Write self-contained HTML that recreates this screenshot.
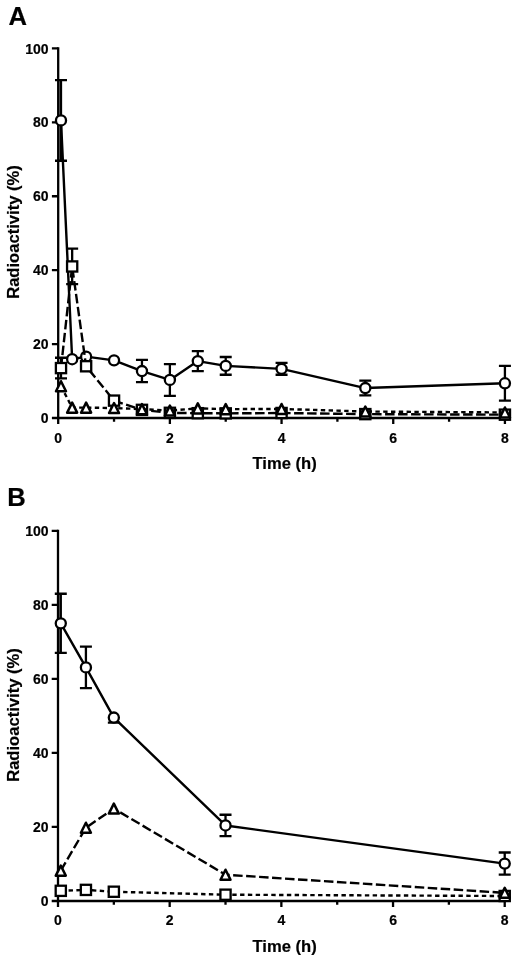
<!DOCTYPE html>
<html><head><meta charset="utf-8"><title>Radioactivity vs time</title>
<style>
html,body{margin:0;padding:0;background:#fff;}
body{width:520px;height:962px;overflow:hidden;}
svg{display:block;will-change:transform;}
text{font-family:"Liberation Sans", sans-serif;font-weight:bold;fill:#000;stroke:#000;stroke-width:0.2px;}
.t{font-size:14px;}
.h{font-size:16.6px;}
.L{font-size:25.6px;}
</style></head>
<body>
<svg width="520" height="962" viewBox="0 0 520 962">
<path d="M58.2 47.25V418H506.07" fill="none" stroke="#000" stroke-width="2.3" stroke-linecap="butt" stroke-linejoin="miter"/>
<path d="M51.9 418H58.2M51.9 344.08H58.2M51.9 270.16H58.2M51.9 196.24H58.2M51.9 122.32H58.2M51.9 48.4H58.2M58.2 418V424M114.04 418V421.8M169.88 418V424M225.72 418V421.8M281.56 418V424M337.4 418V421.8M393.24 418V424M449.08 418V421.8M504.92 418V424" stroke="#000" stroke-width="2.3" fill="none"/>
<text x="48.6" y="423.1" text-anchor="end" class="t">0</text>
<text x="48.6" y="349.18" text-anchor="end" class="t">20</text>
<text x="48.6" y="275.26" text-anchor="end" class="t">40</text>
<text x="48.6" y="201.34" text-anchor="end" class="t">60</text>
<text x="48.6" y="127.42" text-anchor="end" class="t">80</text>
<text x="48.6" y="53.5" text-anchor="end" class="t">100</text>
<text x="58.2" y="442.6" text-anchor="middle" class="t">0</text>
<text x="169.88" y="442.6" text-anchor="middle" class="t">2</text>
<text x="281.56" y="442.6" text-anchor="middle" class="t">4</text>
<text x="393.24" y="442.6" text-anchor="middle" class="t">6</text>
<text x="504.92" y="442.6" text-anchor="middle" class="t">8</text>
<text x="284.6" y="469.2" text-anchor="middle" class="h">Time (h)</text>
<text transform="translate(19.1 232) rotate(-90)" x="0" y="0" text-anchor="middle" class="h">Radioactivity (%)</text>
<text x="8.5" y="24.6" class="L">A</text>
<polyline points="60.99,120.47 72.16,359.23 86.12,356.65 114.04,360.34 141.96,371.06 169.88,379.93 197.8,361.08 225.72,365.89 281.56,368.84 365.32,388.06 504.92,383.26" fill="none" stroke="#000" stroke-width="2.4" stroke-linejoin="round"/>
<path d="M59.6 80.19V160.76" stroke="#000" stroke-opacity="0.55" stroke-width="1" fill="none"/><path d="M60.99 80.19V160.76M54.99 80.19H66.99M54.99 160.76H66.99M141.96 359.97V382.15M135.96 359.97H147.96M135.96 382.15H147.96M169.88 364.04V395.82M163.88 364.04H175.88M163.88 395.82H175.88M197.8 351.1V371.06M191.8 351.1H203.8M191.8 371.06H203.8M225.72 357.02V374.76M219.72 357.02H231.72M219.72 374.76H231.72M281.56 362.93V374.76M275.56 362.93H287.56M275.56 374.76H287.56M365.32 380.67V395.45M359.32 380.67H371.32M359.32 395.45H371.32M504.92 365.89V400.63M498.92 365.89H510.92M498.92 400.63H510.92" stroke="#000" stroke-width="2.3" fill="none"/>
<circle cx="60.99" cy="120.47" r="5.05" fill="#fff" stroke="#000" stroke-width="2.3"/><circle cx="72.16" cy="359.23" r="5.05" fill="#fff" stroke="#000" stroke-width="2.3"/><circle cx="86.12" cy="356.65" r="5.05" fill="#fff" stroke="#000" stroke-width="2.3"/><circle cx="114.04" cy="360.34" r="5.05" fill="#fff" stroke="#000" stroke-width="2.3"/><circle cx="141.96" cy="371.06" r="5.05" fill="#fff" stroke="#000" stroke-width="2.3"/><circle cx="169.88" cy="379.93" r="5.05" fill="#fff" stroke="#000" stroke-width="2.3"/><circle cx="197.8" cy="361.08" r="5.05" fill="#fff" stroke="#000" stroke-width="2.3"/><circle cx="225.72" cy="365.89" r="5.05" fill="#fff" stroke="#000" stroke-width="2.3"/><circle cx="281.56" cy="368.84" r="5.05" fill="#fff" stroke="#000" stroke-width="2.3"/><circle cx="365.32" cy="388.06" r="5.05" fill="#fff" stroke="#000" stroke-width="2.3"/><circle cx="504.92" cy="383.26" r="5.05" fill="#fff" stroke="#000" stroke-width="2.3"/>
<polyline points="60.99,368.1 72.16,266.46 86.12,366.26 114.04,400.63 141.96,409.87 169.88,412.83 197.8,413.2 225.72,413.38 281.56,413.01 365.32,414.12 504.92,414.67" fill="none" stroke="#000" stroke-width="2.4" stroke-linejoin="round" stroke-dasharray="9.5 3.5"/>
<path d="M60.99 357.76V378.45M54.99 357.76H66.99M54.99 378.45H66.99M72.16 248.72V284.2M66.16 248.72H78.16M66.16 284.2H78.16" stroke="#000" stroke-width="2.3" fill="none"/>
<rect x="55.89" y="363" width="10.2" height="10.2" fill="#fff" stroke="#000" stroke-width="2.3"/><rect x="67.06" y="261.36" width="10.2" height="10.2" fill="#fff" stroke="#000" stroke-width="2.3"/><rect x="81.02" y="361.16" width="10.2" height="10.2" fill="#fff" stroke="#000" stroke-width="2.3"/><rect x="108.94" y="395.53" width="10.2" height="10.2" fill="#fff" stroke="#000" stroke-width="2.3"/><rect x="136.86" y="404.77" width="10.2" height="10.2" fill="#fff" stroke="#000" stroke-width="2.3"/><rect x="164.78" y="407.73" width="10.2" height="10.2" fill="#fff" stroke="#000" stroke-width="2.3"/><rect x="192.7" y="408.1" width="10.2" height="10.2" fill="#fff" stroke="#000" stroke-width="2.3"/><rect x="220.62" y="408.28" width="10.2" height="10.2" fill="#fff" stroke="#000" stroke-width="2.3"/><rect x="276.46" y="407.91" width="10.2" height="10.2" fill="#fff" stroke="#000" stroke-width="2.3"/><rect x="360.22" y="409.02" width="10.2" height="10.2" fill="#fff" stroke="#000" stroke-width="2.3"/><rect x="499.82" y="409.57" width="10.2" height="10.2" fill="#fff" stroke="#000" stroke-width="2.3"/>
<polyline points="60.99,386.21 72.16,407.65 86.12,407.65 114.04,408.02 141.96,409.13 169.88,410.61 197.8,408.39 225.72,409.13 281.56,408.94 365.32,411.53 504.92,412.46" fill="none" stroke="#000" stroke-width="2.4" stroke-linejoin="round" stroke-dasharray="4.4 3.4"/>

<path d="M60.99 381.21L65.99 391.21H55.99Z" fill="#fff" stroke="#000" stroke-width="2.5" stroke-linejoin="round"/><path d="M72.16 402.65L77.16 412.65H67.16Z" fill="#fff" stroke="#000" stroke-width="2.5" stroke-linejoin="round"/><path d="M86.12 402.65L91.12 412.65H81.12Z" fill="#fff" stroke="#000" stroke-width="2.5" stroke-linejoin="round"/><path d="M114.04 403.02L119.04 413.02H109.04Z" fill="#fff" stroke="#000" stroke-width="2.5" stroke-linejoin="round"/><path d="M141.96 404.13L146.96 414.13H136.96Z" fill="#fff" stroke="#000" stroke-width="2.5" stroke-linejoin="round"/><path d="M169.88 405.61L174.88 415.61H164.88Z" fill="#fff" stroke="#000" stroke-width="2.5" stroke-linejoin="round"/><path d="M197.8 403.39L202.8 413.39H192.8Z" fill="#fff" stroke="#000" stroke-width="2.5" stroke-linejoin="round"/><path d="M225.72 404.13L230.72 414.13H220.72Z" fill="#fff" stroke="#000" stroke-width="2.5" stroke-linejoin="round"/><path d="M281.56 403.94L286.56 413.94H276.56Z" fill="#fff" stroke="#000" stroke-width="2.5" stroke-linejoin="round"/><path d="M365.32 406.53L370.32 416.53H360.32Z" fill="#fff" stroke="#000" stroke-width="2.5" stroke-linejoin="round"/><path d="M504.92 407.46L509.92 417.46H499.92Z" fill="#fff" stroke="#000" stroke-width="2.5" stroke-linejoin="round"/>
<path d="M58 529.65V901H505.87" fill="none" stroke="#000" stroke-width="2.3" stroke-linecap="butt" stroke-linejoin="miter"/>
<path d="M51.7 901H58M51.7 826.96H58M51.7 752.92H58M51.7 678.88H58M51.7 604.84H58M51.7 530.8H58M58 901V907M113.84 901V904.8M169.68 901V907M225.52 901V904.8M281.36 901V907M337.2 901V904.8M393.04 901V907M448.88 901V904.8M504.72 901V907" stroke="#000" stroke-width="2.3" fill="none"/>
<text x="48.6" y="906.1" text-anchor="end" class="t">0</text>
<text x="48.6" y="832.06" text-anchor="end" class="t">20</text>
<text x="48.6" y="758.02" text-anchor="end" class="t">40</text>
<text x="48.6" y="683.98" text-anchor="end" class="t">60</text>
<text x="48.6" y="609.94" text-anchor="end" class="t">80</text>
<text x="48.6" y="535.9" text-anchor="end" class="t">100</text>
<text x="58" y="925.2" text-anchor="middle" class="t">0</text>
<text x="169.68" y="925.2" text-anchor="middle" class="t">2</text>
<text x="281.36" y="925.2" text-anchor="middle" class="t">4</text>
<text x="393.04" y="925.2" text-anchor="middle" class="t">6</text>
<text x="504.72" y="925.2" text-anchor="middle" class="t">8</text>
<text x="284.6" y="952.3" text-anchor="middle" class="h">Time (h)</text>
<text transform="translate(19.1 715) rotate(-90)" x="0" y="0" text-anchor="middle" class="h">Radioactivity (%)</text>
<text x="7.3" y="505.7" class="L">B</text>
<polyline points="60.79,623.35 85.92,667.4 113.84,717.57 225.52,825.48 504.72,863.61" fill="none" stroke="#000" stroke-width="2.4" stroke-linejoin="round"/>
<path d="M59.4 593.73V652.97" stroke="#000" stroke-opacity="0.55" stroke-width="1" fill="none"/><path d="M60.79 593.73V652.97M54.79 593.73H66.79M54.79 652.97H66.79M85.92 646.67V688.13M79.92 646.67H91.92M79.92 688.13H91.92M113.84 717.57V722.56M107.84 722.56H119.84M225.52 814.74V836.22M219.52 814.74H231.52M219.52 836.22H231.52M504.72 852.5V874.72M498.72 852.5H510.72M498.72 874.72H510.72" stroke="#000" stroke-width="2.3" fill="none"/>
<circle cx="60.79" cy="623.35" r="5.05" fill="#fff" stroke="#000" stroke-width="2.3"/><circle cx="85.92" cy="667.4" r="5.05" fill="#fff" stroke="#000" stroke-width="2.3"/><circle cx="113.84" cy="717.57" r="5.05" fill="#fff" stroke="#000" stroke-width="2.3"/><circle cx="225.52" cy="825.48" r="5.05" fill="#fff" stroke="#000" stroke-width="2.3"/><circle cx="504.72" cy="863.61" r="5.05" fill="#fff" stroke="#000" stroke-width="2.3"/>
<polyline points="60.79,890.82 85.92,889.89 113.84,891.75 225.52,894.71 504.72,896" fill="none" stroke="#000" stroke-width="2.4" stroke-linejoin="round" stroke-dasharray="4.4 3.4"/>

<rect x="55.69" y="885.72" width="10.2" height="10.2" fill="#fff" stroke="#000" stroke-width="2.3"/><rect x="80.82" y="884.79" width="10.2" height="10.2" fill="#fff" stroke="#000" stroke-width="2.3"/><rect x="108.74" y="886.64" width="10.2" height="10.2" fill="#fff" stroke="#000" stroke-width="2.3"/><rect x="220.42" y="889.61" width="10.2" height="10.2" fill="#fff" stroke="#000" stroke-width="2.3"/><rect x="499.62" y="890.9" width="10.2" height="10.2" fill="#fff" stroke="#000" stroke-width="2.3"/>
<polyline points="60.79,870.64 85.92,827.7 113.84,808.6 225.52,874.72 504.72,892.86" fill="none" stroke="#000" stroke-width="2.4" stroke-linejoin="round" stroke-dasharray="9.5 3.5"/>

<path d="M60.79 865.64L65.79 875.64H55.79Z" fill="#fff" stroke="#000" stroke-width="2.5" stroke-linejoin="round"/><path d="M85.92 822.7L90.92 832.7H80.92Z" fill="#fff" stroke="#000" stroke-width="2.5" stroke-linejoin="round"/><path d="M113.84 803.6L118.84 813.6H108.84Z" fill="#fff" stroke="#000" stroke-width="2.5" stroke-linejoin="round"/><path d="M225.52 869.72L230.52 879.72H220.52Z" fill="#fff" stroke="#000" stroke-width="2.5" stroke-linejoin="round"/><path d="M504.72 887.86L509.72 897.86H499.72Z" fill="#fff" stroke="#000" stroke-width="2.5" stroke-linejoin="round"/>
</svg>
</body></html>
